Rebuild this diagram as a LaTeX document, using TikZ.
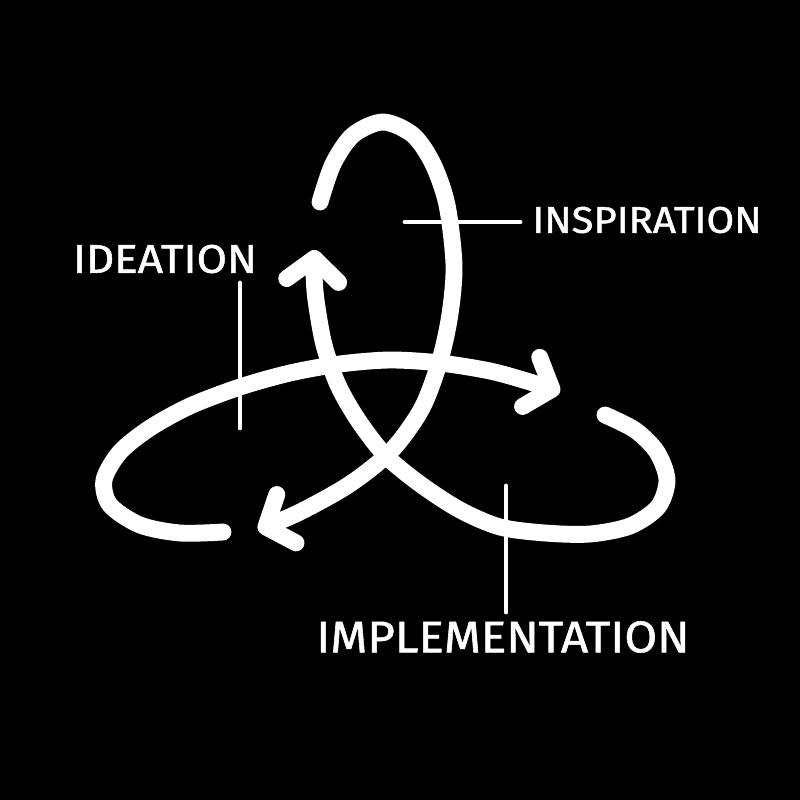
\documentclass[tikz,border=0pt]{standalone}
\usepackage{fontspec}
\setmainfont{Fira Sans}
\usepackage{tikz}
\usetikzlibrary{arrows.meta}
\tikzset{
    loopline/.style={white, line width=4.8pt, line cap=round, line join=round}, % thick strokes of the three loops
    arrowend/.style={-{Straight Barb[length=6.3pt, width=14.8pt, round]}}, % open arrow head
    leader/.style={white, line width=1.4pt, line cap=round}, % thin label lines
    tag/.style={white, inner sep=0pt, font=\addfontfeature{FakeBold=1.2}} % label text
}

\begin{document}
\begin{tikzpicture}[x=0.01cm, y=-0.01cm]
    \fill[black] (0,0) rectangle (800,800);
    \useasboundingbox (0,0) rectangle (800,800);

    % ideation loop (left)
    \draw[loopline, arrowend] plot[smooth] coordinates {(223,532) (180,533) (140,525) (110,505) (104,480) (120,452) (150,428) (190,406) (240,387) (290,373) (340,364) (390,360) (440,363) (490,371) (530,382) (560,392)};
    % inspiration loop (top)
    \draw[loopline, arrowend] plot[smooth] coordinates {(320,202) (333,164) (353,135) (383,122) (413,135) (433,164) (447,205) (454,265) (450,314) (440,360) (422,408) (392,450) (350,484) (300,512) (258,530)};
    % implementation loop (right)
    \draw[loopline, arrowend] plot[smooth] coordinates {(605,415) (635,430) (657,452) (667,480) (658,507) (630,526) (590,534) (545,533) (500,527) (460,510) (420,484) (385,455) (358,420) (338,385) (324,345) (316,300) (314,272) (315,250)};

    % labels
    \node[tag] (ideation) at (165,259) {\resizebox{1.84cm}{0.28cm}{IDEATION}};
    \node[tag] (inspiration) at (647,220) {\resizebox{2.29cm}{0.26cm}{INSPIRATION}};
    \node[tag] (implementation) at (503,637) {\resizebox{3.73cm}{0.31cm}{IMPLEMENTATION}};

    \coordinate (idea-a) at (240,283); \coordinate (idea-b) at (240,428);
    \coordinate (insp-a) at (405,222); \coordinate (insp-b) at (520,222);
    \coordinate (impl-a) at (506,486); \coordinate (impl-b) at (506,612);
    \draw[leader] (idea-a) -- (idea-b);
    \draw[leader] (insp-a) -- (insp-b);
    \draw[leader] (impl-a) -- (impl-b);
\end{tikzpicture}
\end{document}
